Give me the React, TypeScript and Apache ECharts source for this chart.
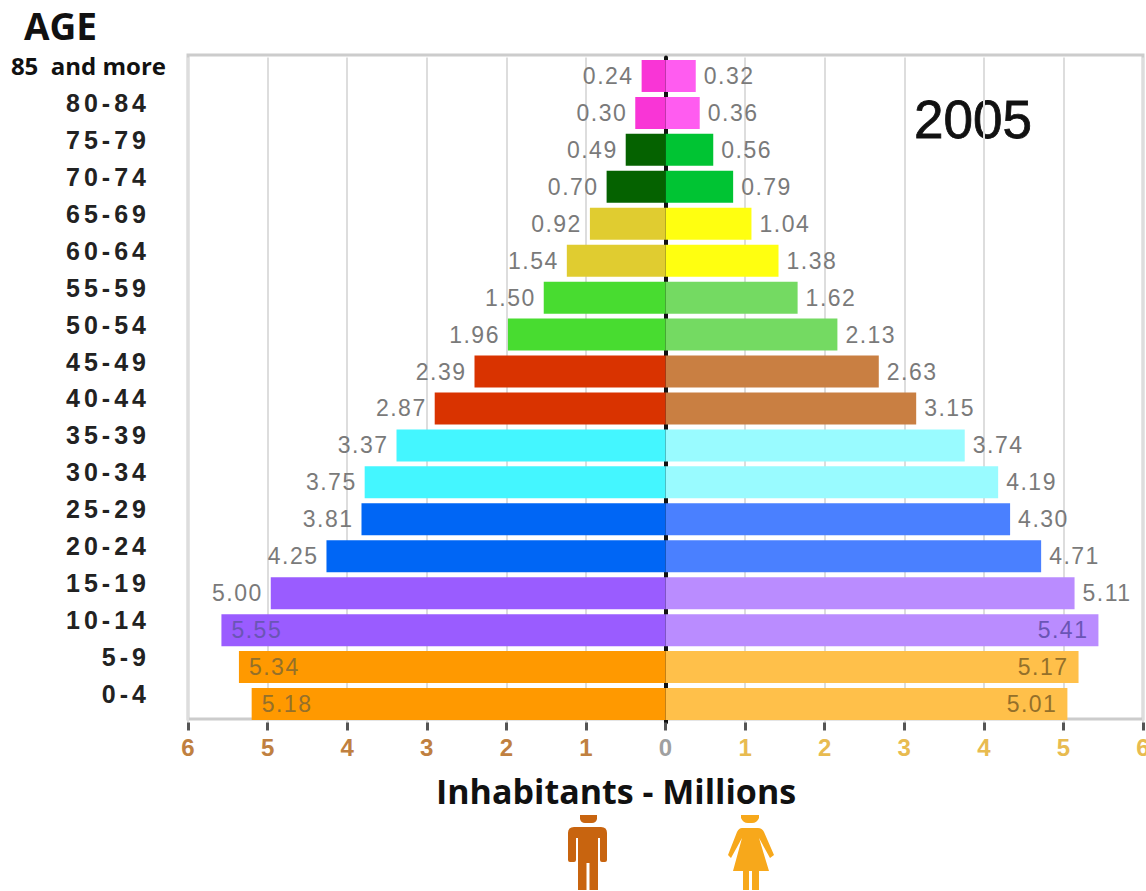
import React, { useEffect, useRef } from "react";
import * as echarts from "echarts";

const ages = ["85  and more","80-84","75-79","70-74","65-69","60-64","55-59","50-54","45-49","40-44","35-39","30-34","25-29","20-24","15-19","10-14","5-9","0-4"];
const maleBars = [0.30,0.38,0.50,0.74,0.95,1.24,1.53,1.98,2.40,2.90,3.38,3.78,3.82,4.26,4.96,5.58,5.36,5.20];
const femaleBars = [0.38,0.43,0.60,0.85,1.08,1.42,1.66,2.16,2.68,3.15,3.76,4.18,4.33,4.72,5.14,5.44,5.19,5.05];
const maleLabels = ["0.24","0.30","0.49","0.70","0.92","1.54","1.50","1.96","2.39","2.87","3.37","3.75","3.81","4.25","5.00","5.55","5.34","5.18"];
const femaleLabels = ["0.32","0.36","0.56","0.79","1.04","1.38","1.62","2.13","2.63","3.15","3.74","4.19","4.30","4.71","5.11","5.41","5.17","5.01"];
const maleColors = ["#f935d6","#f935d6","#056200","#056200","#e0cc30","#e0cc30","#48dc30","#48dc30","#d93300","#d93300","#44f6ff","#44f6ff","#0066f5","#0066f5","#9a5cff","#9a5cff","#ff9900","#ff9900"];
const femaleColors = ["#ff5cf0","#ff5cf0","#00c433","#00c433","#ffff10","#ffff10","#74da62","#74da62","#c97f42","#c97f42","#99fbff","#99fbff","#4a80ff","#4a80ff","#ba8cff","#ba8cff","#ffc04a","#ffc04a"];
const insideLabelColors: Record<number, string> = { 15: "#6a55b5", 16: "#94702a", 17: "#94702a" };

const manPath = "M580 815 L597 815 L597 819 Q596 823 592 823 L585 823 Q581 823 580 819 Z M574 827 L601 827 Q607 827 607 833 L607 860 Q607 862 605 862 L602 862 Q600 862 600 860 L600 838 L598 838 L598 890 L589.5 890 L589.5 863 L586.5 863 L586.5 890 L578 890 L578 838 L576 838 L576 860 Q576 862 574 862 L570 862 Q568 862 568 860 L568 833 Q568 827 574 827 Z";
const womanPath = "M741 815 L759 815 L759 818 Q757 823 752 823 L748 823 Q743 823 741 818 Z M742 828 L758 828 Q762 828 764 832 L774 855 L770 858 L759 838 L769 871 L759 871 L759 890 L752 890 L752 871 L749 871 L749 890 L743 890 L743 871 L733 871 L742 838 L731 858 L728 855 L737 832 Q739 828 742 828 Z";

echarts.graphic.registerShape("manIcon", echarts.graphic.extendPath(manPath, {}) as any);
echarts.graphic.registerShape("womanIcon", echarts.graphic.extendPath(womanPath, {}) as any);

const makeData = (bars: number[], labels: string[], colors: string[], sign: number) =>
  bars.map((b, i) => {
    const inside = i >= 15;
    return {
      value: sign * b,
      itemStyle: { color: colors[i] },
      label: {
        show: true,
        formatter: labels[i],
        position: sign < 0 ? (inside ? "insideLeft" : "left") : inside ? "insideRight" : "right",
        distance: inside ? 10 : 8,
        color: inside ? insideLabelColors[i] : "#7a7a7a",
        fontFamily: "Liberation Sans",
        fontSize: 23,
      },
    };
  });

export default function App() {
  const ref = useRef<HTMLDivElement>(null);
  useEffect(() => {
    document.body.style.margin = "0";
    const chart = echarts.init(ref.current!, undefined, { renderer: "svg" });
    chart.setOption({
      animation: false,
      backgroundColor: "#ffffff",
      grid: { left: 188, right: 3, top: 57.5, bottom: 168.5, outerBoundsMode: "none" },
      xAxis: {
        type: "value", min: -6, max: 6, interval: 1,
        axisLine: { show: false },
        axisTick: { show: true, length: 8, lineStyle: { color: "#555555", width: 3 } },
        splitLine: { show: true, lineStyle: { color: "#dddddd", width: 2 } },
        axisLabel: {
          margin: 13,
          fontFamily: "Liberation Sans", fontWeight: "bold", fontSize: 24,
          formatter: (v: number) => String(Math.abs(v)),
          color: (v: any) => (Number(v) < 0 ? "#c08040" : Number(v) === 0 ? "#a0a0a0" : "#e8bb50"),
          hideOverlap: false,
        },
      },
      yAxis: [
        {
          type: "category", data: ages, inverse: true,
          axisLine: { show: false, onZero: false }, axisTick: { show: false },
          axisLabel: {
            interval: 0, margin: 22, align: "right",
            formatter: (v: string, i: number) => (i === 0 ? `{top|${v}}` : `{age|${v}}`),
            rich: {
              top: { fontFamily: "Open Sans", fontWeight: "bold", fontSize: 24, color: "#111111", padding: [0, 0, 20, 0] },
              age: { fontFamily: "Liberation Sans", fontWeight: "bold", fontSize: 25, color: "#222222", padding: [0, 16, 20, 0] },
            },
          },
        },
        {
          type: "category", data: ages, inverse: true, position: "left",
          axisLine: { show: true, onZero: true, lineStyle: { color: "#111111", width: 4 } },
          axisTick: { show: false }, axisLabel: { show: false }, splitLine: { show: false },
        },
      ],
      graphic: [
        { type: "rect", z: -1, shape: { x: 188, y: 55, width: 955, height: 664 }, style: { fill: "none", stroke: "#cccccc", lineWidth: 3 } },
        { type: "text", x: 24, y: 7, style: { text: "AGE", fontFamily: "Open Sans", fontWeight: "bold", fontSize: 37, fill: "#111111" } },
        { type: "text", x: 914, y: 93, style: { text: "2005", fontFamily: "Liberation Sans", fontSize: 53, fill: "#111111", stroke: "#111111", lineWidth: 0.8 } },
        { type: "text", x: 436, y: 774, style: { text: "Inhabitants - Millions", fontFamily: "Open Sans", fontWeight: "bold", fontSize: 34, fill: "#111111" } },
        { type: "manIcon", x: 0, y: 0, style: { fill: "#c8640f" } },
        { type: "womanIcon", x: 0, y: 0, style: { fill: "#f7a81b" } },
      ],
      series: [
        { type: "bar", name: "Women", yAxisIndex: 0, barWidth: 32, barGap: "-100%", data: makeData(femaleBars, femaleLabels, femaleColors, 1) },
        { type: "bar", name: "Men", yAxisIndex: 0, barWidth: 32, barGap: "-100%", data: makeData(maleBars, maleLabels, maleColors, -1) },
      ],
    });
    return () => chart.dispose();
  }, []);
  return (
    <>
      <style>{`#pyramid text[style*="bold"][style*="Liberation Sans"][style*="25px"]{letter-spacing:4px}#pyramid text[style*="23px"]:not([style*="bold"]){letter-spacing:1.5px}`}</style>
      <div id="pyramid" ref={ref} style={{ width: 1146, height: 891 }} />
    </>
  );
}
